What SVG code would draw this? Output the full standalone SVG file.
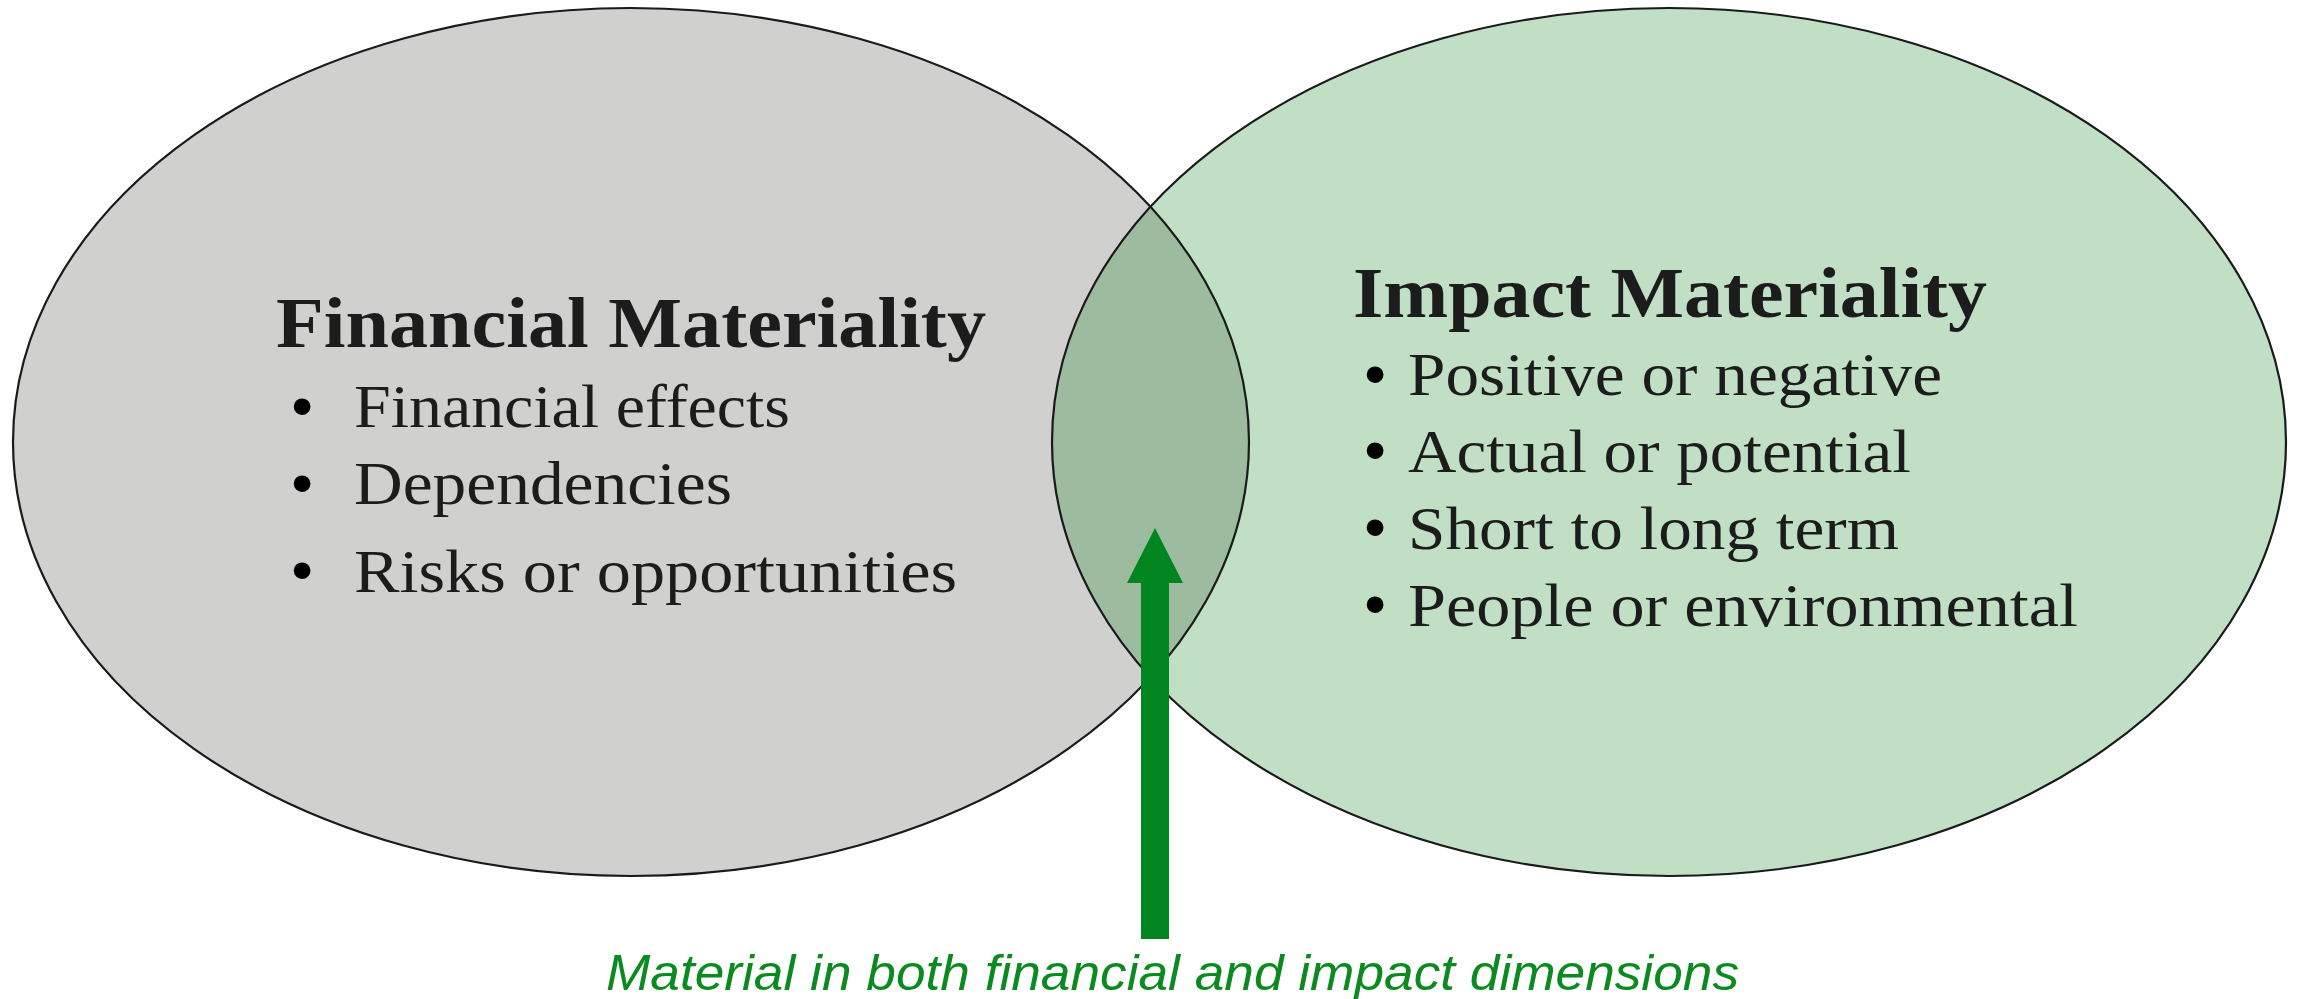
<svg xmlns="http://www.w3.org/2000/svg" width="2298" height="999" viewBox="0 0 2298 999">
<style>
.outline{fill:none;stroke:#1a1a1a;stroke-width:2.2}
.title{font-family:"Liberation Serif","DejaVu Serif",serif;font-weight:bold;font-size:72px;fill:#1c1c1c}
.item{font-family:"Liberation Serif","DejaVu Serif",serif;font-size:62px;fill:#1c1c1c}
.bullet{font-family:"Liberation Sans",Arial,sans-serif;font-size:62px;fill:#000;text-anchor:middle}
.note{font-family:"Liberation Sans",Arial,sans-serif;font-style:italic;font-size:50px;fill:#0a8a1f}
</style>
<defs>
<clipPath id="clipLeft"><ellipse cx="631" cy="442" rx="618" ry="434"/></clipPath>
</defs>
<rect width="2298" height="999" fill="#ffffff"/>
<g id="financial">
<ellipse cx="631" cy="442" rx="618" ry="434" fill="#d0d0cf"/>
</g>
<g id="impact">
<ellipse cx="1669" cy="442" rx="617" ry="434" fill="#c0dfc5"/>
</g>
<g id="overlap">
<ellipse cx="1669" cy="442" rx="617" ry="434" fill="#9dbb9f" clip-path="url(#clipLeft)"/>
</g>
<g id="outlines">
<ellipse class="outline" cx="631" cy="442" rx="618" ry="434"/>
<ellipse class="outline" cx="1669" cy="442" rx="617" ry="434"/>
</g>
<g id="financial-text">
<text class="title" x="276" y="347" textLength="710" lengthAdjust="spacingAndGlyphs">Financial Materiality</text>
<text class="bullet" x="302" y="427">•</text>
<text class="item" x="354" y="427" textLength="436" lengthAdjust="spacingAndGlyphs">Financial effects</text>
<text class="bullet" x="302" y="504">•</text>
<text class="item" x="354" y="504" textLength="378" lengthAdjust="spacingAndGlyphs">Dependencies</text>
<text class="bullet" x="302" y="591">•</text>
<text class="item" x="354" y="592" textLength="603" lengthAdjust="spacingAndGlyphs">Risks or opportunities</text>
</g>
<g id="impact-text">
<text class="title" x="1353" y="317" textLength="634" lengthAdjust="spacingAndGlyphs">Impact Materiality</text>
<text class="bullet" x="1375" y="395">•</text>
<text class="item" x="1408" y="395" textLength="534" lengthAdjust="spacingAndGlyphs">Positive or negative</text>
<text class="bullet" x="1375" y="471">•</text>
<text class="item" x="1408" y="472" textLength="503" lengthAdjust="spacingAndGlyphs">Actual or potential</text>
<text class="bullet" x="1375" y="548">•</text>
<text class="item" x="1408" y="549" textLength="491" lengthAdjust="spacingAndGlyphs">Short to long term</text>
<text class="bullet" x="1375" y="625">•</text>
<text class="item" x="1408" y="626" textLength="670" lengthAdjust="spacingAndGlyphs">People or environmental</text>
</g>
<g id="connectors">
<polygon points="1155,528 1183,583 1169,583 1169,939 1141,939 1141,583 1127,583" fill="#00851f"/>
</g>
<g id="label">
<text class="note" x="606" y="990" textLength="1133" lengthAdjust="spacingAndGlyphs">Material in both financial and impact dimensions</text>
</g>
</svg>
